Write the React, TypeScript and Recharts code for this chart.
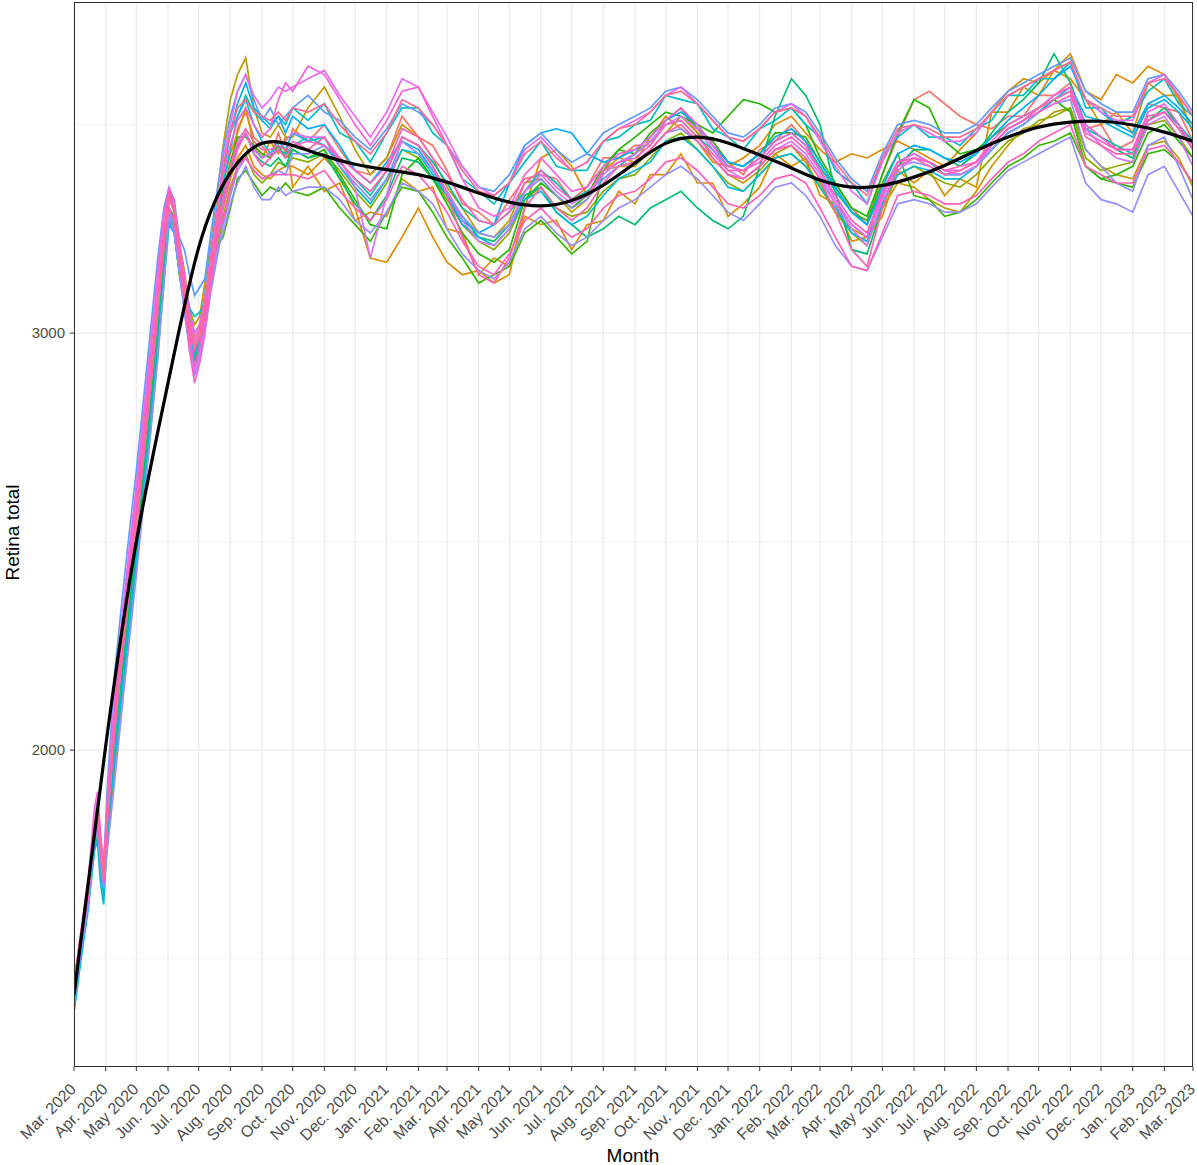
import React from 'react';
import { LineChart, Line, XAxis, YAxis, CartesianGrid } from 'recharts';

const FONT = "'Liberation Sans', Arial, Helvetica, sans-serif";

// day offsets since 1 Mar 2020 for the ensemble series
const earlyDays = [0, 7, 14, 20, 23, 26, 29, 33, 40, 47, 54, 61, 68, 75, 82, 88, 93, 98, 103, 108, 113, 118, 123, 128, 134, 140, 146, 153, 160, 168, 176, 184, 192, 200, 207];
const lateDays = [214, 229, 245, 260, 275, 290, 306, 321, 337, 351, 365, 380, 396, 411, 426, 441, 457, 472, 487, 502, 518, 533, 549, 564, 579, 594, 610, 625, 640, 655, 671, 686, 702, 716, 730, 745, 761, 776, 791, 806, 822, 837, 852, 867, 883, 898, 914, 929, 944, 959, 975, 990, 1005, 1020, 1036, 1051, 1067, 1081, 1095];
const days = [...earlyDays, ...lateDays];

const monthTicks = [0, 31, 61, 92, 122, 153, 184, 214, 245, 275, 306, 337, 365, 396, 426, 457, 487, 518, 549, 579, 610, 640, 671, 702, 730, 761, 791, 822, 852, 883, 914, 944, 975, 1005, 1036, 1067, 1095];
const monthLabels = [
  'Mar. 2020', 'Apr. 2020', 'May 2020', 'Jun. 2020', 'Jul. 2020', 'Aug. 2020', 'Sep. 2020', 'Oct. 2020', 'Nov. 2020', 'Dec. 2020',
  'Jan. 2021', 'Feb. 2021', 'Mar. 2021', 'Apr. 2021', 'May 2021', 'Jun. 2021', 'Jul. 2021', 'Aug. 2021', 'Sep. 2021', 'Oct. 2021', 'Nov. 2021', 'Dec. 2021',
  'Jan. 2022', 'Feb. 2022', 'Mar. 2022', 'Apr. 2022', 'May 2022', 'Jun. 2022', 'Jul. 2022', 'Aug. 2022', 'Sep. 2022', 'Oct. 2022', 'Nov. 2022', 'Dec. 2022',
  'Jan. 2023', 'Feb. 2023', 'Mar. 2023',
];
const yTicks = [2000, 3000];
const yMinor = [1500, 2500, 3500];

const smoothValues = [1413, 2010, 2500, 2880, 3205, 3385, 3455, 3450, 3425, 3405, 3392, 3380, 3362, 3336, 3314, 3305, 3318, 3355, 3408, 3455, 3470, 3456, 3427, 3396, 3367, 3350, 3354, 3374, 3402, 3438, 3470, 3494, 3506, 3508, 3499, 3482, 3460];

const s1 = [1430, 1550, 1670, 1820, 1860, 1770, 1700, 1840, 2070, 2250, 2400, 2560, 2700, 2890, 3080, 3230, 3320, 3300, 3200, 3110, 3030, 2990, 3010, 3060, 3170, 3230, 3340, 3380, 3490, 3530, 3470, 3450, 3420, 3480, 3430,
  3490, 3460, 3500, 3440, 3390, 3380, 3420, 3520, 3470, 3450, 3390, 3310, 3290, 3260, 3320, 3370, 3380, 3370, 3320, 3350, 3420, 3420, 3450, 3450, 3510, 3540, 3480, 3460, 3410, 3380, 3440, 3460, 3500, 3460, 3390, 3360, 3300, 3260, 3380, 3470, 3560, 3580, 3550, 3520, 3500, 3490, 3520, 3520, 3570, 3570, 3600, 3490, 3500, 3440, 3460, 3550, 3540, 3530, 3460];
const s2 = [1400, 1530, 1650, 1790, 1830, 1740, 1680, 1830, 2010, 2170, 2320, 2470, 2640, 2800, 2980, 3150, 3290, 3250, 3160, 3080, 2990, 2950, 2990, 3050, 3140, 3230, 3300, 3370, 3420, 3450, 3400, 3380, 3370, 3390, 3400,
  3400, 3380, 3420, 3380, 3300, 3180, 3170, 3230, 3300, 3230, 3170, 3140, 3150, 3120, 3140, 3300, 3420, 3440, 3400, 3330, 3390, 3420, 3410, 3470, 3520, 3490, 3460, 3410, 3400, 3420, 3450, 3500, 3520, 3480, 3440, 3410, 3430, 3420, 3440, 3460, 3440, 3420, 3400, 3440, 3480, 3530, 3580, 3610, 3600, 3630, 3670, 3580, 3560, 3620, 3600, 3640, 3620, 3560, 3480];
const s3 = [1440, 1560, 1670, 1810, 1850, 1780, 1710, 1880, 2120, 2300, 2470, 2630, 2800, 2970, 3140, 3290, 3340, 3300, 3220, 3150, 3060, 3020, 3040, 3120, 3230, 3330, 3450, 3560, 3620, 3660, 3540, 3480, 3470, 3500, 3470,
  3470, 3540, 3590, 3520, 3440, 3380, 3420, 3500, 3470, 3420, 3350, 3300, 3240, 3230, 3270, 3360, 3370, 3330, 3290, 3320, 3390, 3400, 3400, 3440, 3480, 3520, 3480, 3420, 3380, 3360, 3390, 3430, 3450, 3410, 3350, 3290, 3250, 3230, 3300, 3360, 3350, 3320, 3300, 3290, 3340, 3400, 3450, 3490, 3500, 3530, 3540, 3440, 3400, 3380, 3370, 3450, 3460, 3420, 3350];
const s4 = [1410, 1530, 1650, 1790, 1820, 1750, 1690, 1850, 2050, 2220, 2370, 2530, 2700, 2870, 3050, 3200, 3300, 3260, 3170, 3090, 2990, 2950, 2960, 3030, 3120, 3200, 3280, 3350, 3400, 3430, 3380, 3360, 3380, 3410, 3400,
  3420, 3410, 3430, 3390, 3340, 3300, 3360, 3440, 3420, 3370, 3320, 3260, 3220, 3200, 3240, 3320, 3350, 3300, 3280, 3290, 3340, 3370, 3380, 3420, 3460, 3480, 3440, 3400, 3360, 3340, 3380, 3420, 3430, 3400, 3360, 3290, 3240, 3210, 3310, 3380, 3400, 3380, 3360, 3350, 3380, 3420, 3460, 3480, 3510, 3520, 3540, 3420, 3390, 3400, 3410, 3500, 3510, 3470, 3420];
const s5 = [1420, 1540, 1660, 1830, 1870, 1770, 1690, 1840, 2060, 2240, 2390, 2550, 2710, 2890, 3060, 3220, 3300, 3280, 3190, 3110, 3040, 2930, 2970, 3060, 3170, 3260, 3340, 3410, 3470, 3470, 3450, 3430, 3420, 3450, 3420,
  3440, 3420, 3440, 3380, 3320, 3260, 3250, 3380, 3420, 3370, 3310, 3240, 3190, 3170, 3200, 3320, 3360, 3330, 3300, 3330, 3400, 3440, 3470, 3500, 3530, 3520, 3500, 3480, 3520, 3560, 3550, 3530, 3540, 3500, 3420, 3360, 3300, 3280, 3380, 3480, 3560, 3540, 3460, 3430, 3440, 3470, 3500, 3520, 3540, 3560, 3530, 3400, 3370, 3380, 3400, 3480, 3500, 3460, 3420];
const s6 = [1400, 1520, 1640, 1780, 1810, 1730, 1660, 1820, 2010, 2180, 2330, 2480, 2650, 2820, 3000, 3160, 3280, 3260, 3160, 3070, 2980, 2920, 2950, 3020, 3120, 3220, 3310, 3390, 3450, 3480, 3430, 3410, 3400, 3420, 3400,
  3440, 3420, 3430, 3370, 3310, 3270, 3330, 3420, 3410, 3370, 3330, 3280, 3230, 3220, 3260, 3330, 3350, 3290, 3260, 3230, 3250, 3280, 3260, 3300, 3320, 3340, 3300, 3270, 3250, 3280, 3400, 3520, 3610, 3570, 3500, 3340, 3200, 3190, 3300, 3400, 3440, 3440, 3420, 3400, 3430, 3480, 3530, 3560, 3600, 3670, 3600, 3500, 3470, 3440, 3420, 3510, 3540, 3500, 3440];
const s7 = [1390, 1510, 1630, 1760, 1790, 1710, 1650, 1810, 2000, 2160, 2310, 2460, 2630, 2800, 2980, 3140, 3270, 3240, 3150, 3060, 2990, 2940, 2980, 3050, 3150, 3240, 3320, 3400, 3450, 3480, 3440, 3420, 3430, 3440, 3430,
  3450, 3470, 3450, 3410, 3370, 3330, 3390, 3470, 3450, 3410, 3360, 3300, 3270, 3260, 3290, 3340, 3390, 3360, 3320, 3340, 3370, 3400, 3430, 3460, 3500, 3510, 3470, 3440, 3400, 3390, 3420, 3460, 3480, 3450, 3400, 3340, 3290, 3260, 3340, 3410, 3430, 3410, 3380, 3380, 3400, 3440, 3480, 3500, 3530, 3560, 3580, 3490, 3470, 3450, 3430, 3510, 3530, 3500, 3460];
const s8 = [1370, 1500, 1620, 1760, 1780, 1680, 1630, 1810, 1980, 2140, 2290, 2440, 2600, 2770, 2950, 3120, 3260, 3240, 3150, 3070, 3000, 2950, 2990, 3060, 3170, 3270, 3360, 3440, 3520, 3560, 3500, 3460, 3430, 3460, 3440,
  3480, 3460, 3470, 3400, 3350, 3310, 3370, 3440, 3430, 3380, 3330, 3260, 3230, 3210, 3250, 3320, 3340, 3290, 3260, 3280, 3330, 3370, 3390, 3410, 3460, 3470, 3440, 3400, 3350, 3340, 3380, 3420, 3430, 3400, 3350, 3300, 3240, 3220, 3310, 3380, 3400, 3390, 3370, 3370, 3400, 3440, 3480, 3500, 3530, 3560, 3590, 3520, 3510, 3490, 3470, 3540, 3560, 3530, 3490];
const s9 = [1410, 1540, 1660, 1800, 1840, 1760, 1700, 1860, 2070, 2240, 2400, 2550, 2720, 2890, 3070, 3230, 3330, 3310, 3210, 3130, 3050, 3000, 3020, 3090, 3200, 3300, 3400, 3480, 3550, 3600, 3540, 3520, 3500, 3520, 3480,
  3520, 3490, 3500, 3450, 3390, 3360, 3410, 3460, 3440, 3390, 3330, 3270, 3240, 3260, 3360, 3450, 3480, 3490, 3480, 3430, 3410, 3420, 3440, 3470, 3510, 3530, 3500, 3450, 3410, 3400, 3430, 3470, 3490, 3460, 3410, 3350, 3290, 3260, 3350, 3430, 3450, 3440, 3420, 3410, 3430, 3470, 3510, 3540, 3570, 3610, 3640, 3560, 3530, 3500, 3480, 3550, 3570, 3540, 3500];
const s10 = [1400, 1520, 1640, 1790, 1830, 1750, 1680, 1840, 2050, 2220, 2380, 2530, 2700, 2870, 3050, 3210, 3290, 3260, 3160, 3070, 2970, 2900, 2930, 3000, 3100, 3180, 3260, 3330, 3390, 3420, 3390, 3370, 3380, 3390, 3380,
  3430, 3430, 3450, 3400, 3360, 3320, 3370, 3460, 3430, 3390, 3340, 3280, 3240, 3230, 3260, 3340, 3370, 3330, 3300, 3320, 3370, 3400, 3410, 3440, 3480, 3490, 3460, 3420, 3380, 3370, 3400, 3440, 3450, 3420, 3370, 3310, 3260, 3230, 3330, 3400, 3410, 3400, 3380, 3380, 3400, 3440, 3480, 3500, 3530, 3550, 3560, 3440, 3400, 3360, 3340, 3450, 3470, 3400, 3320];
const s11 = [1420, 1550, 1670, 1810, 1850, 1770, 1700, 1850, 2060, 2240, 2400, 2550, 2720, 2890, 3070, 3230, 3320, 3290, 3190, 3100, 3000, 2910, 2940, 3020, 3130, 3230, 3320, 3400, 3450, 3480, 3440, 3420, 3430, 3440, 3460,
  3480, 3470, 3470, 3420, 3350, 3180, 3330, 3470, 3450, 3400, 3340, 3270, 3220, 3210, 3250, 3340, 3380, 3340, 3310, 3330, 3380, 3410, 3430, 3460, 3500, 3520, 3490, 3440, 3390, 3370, 3400, 3440, 3460, 3430, 3380, 3310, 3250, 3210, 3320, 3390, 3420, 3410, 3390, 3380, 3400, 3450, 3490, 3510, 3540, 3570, 3590, 3490, 3450, 3420, 3410, 3500, 3520, 3470, 3400];
const s12 = [1440, 1570, 1690, 1860, 1900, 1800, 1720, 1870, 2100, 2280, 2450, 2610, 2780, 2950, 3130, 3280, 3350, 3310, 3220, 3140, 3050, 3000, 3020, 3080, 3190, 3290, 3380, 3450, 3510, 3540, 3500, 3470, 3490, 3560, 3600,
  3580, 3640, 3620, 3560, 3500, 3450, 3510, 3580, 3590, 3520, 3450, 3370, 3300, 3280, 3300, 3380, 3420, 3380, 3340, 3350, 3400, 3430, 3440, 3470, 3510, 3540, 3500, 3450, 3400, 3390, 3420, 3460, 3480, 3450, 3390, 3320, 3260, 3230, 3330, 3410, 3430, 3410, 3390, 3390, 3410, 3460, 3500, 3520, 3540, 3570, 3590, 3500, 3470, 3440, 3440, 3530, 3550, 3500, 3450];
const s13 = [1430, 1550, 1670, 1810, 1850, 1760, 1690, 1860, 2070, 2240, 2390, 2540, 2710, 2880, 3060, 3220, 3320, 3300, 3190, 3100, 3010, 2960, 2990, 3060, 3160, 3250, 3330, 3400, 3460, 3490, 3460, 3440, 3440, 3450, 3440,
  3460, 3440, 3470, 3410, 3370, 3340, 3390, 3470, 3450, 3400, 3330, 3230, 3140, 3120, 3180, 3300, 3350, 3300, 3270, 3300, 3360, 3400, 3410, 3440, 3480, 3500, 3460, 3420, 3380, 3370, 3400, 3440, 3450, 3420, 3370, 3290, 3200, 3160, 3300, 3400, 3420, 3400, 3380, 3390, 3410, 3450, 3490, 3510, 3540, 3560, 3580, 3470, 3450, 3430, 3430, 3510, 3530, 3490, 3440];
const s14 = [1450, 1560, 1680, 1820, 1860, 1770, 1710, 1870, 2090, 2270, 2430, 2580, 2750, 2920, 3090, 3250, 3340, 3320, 3180, 3080, 2960, 2880, 2930, 3000, 3120, 3220, 3300, 3380, 3440, 3480, 3430, 3400, 3420, 3440, 3420,
  3450, 3460, 3450, 3420, 3390, 3360, 3400, 3490, 3470, 3420, 3380, 3320, 3270, 3260, 3290, 3360, 3390, 3350, 3320, 3330, 3390, 3410, 3420, 3450, 3500, 3510, 3470, 3430, 3390, 3390, 3410, 3450, 3470, 3440, 3390, 3330, 3270, 3240, 3340, 3410, 3420, 3410, 3390, 3400, 3410, 3450, 3490, 3510, 3530, 3550, 3570, 3480, 3460, 3440, 3440, 3520, 3530, 3490, 3440];
const s15 = [1410, 1560, 1650, 1830, 1850, 1750, 1700, 1780, 1960, 2120, 2300, 2440, 2610, 2790, 2960, 3130, 3300, 3260, 3190, 3090, 3020, 2940, 3000, 3050, 3180, 3240, 3360, 3430, 3480, 3540, 3450, 3420, 3460, 3430, 3470,
  3350, 3400, 3340, 3360, 3270, 3290, 3280, 3370, 3340, 3350, 3250, 3240, 3140, 3180, 3160, 3280, 3260, 3270, 3200, 3260, 3270, 3340, 3310, 3380, 3380, 3430, 3360, 3360, 3280, 3310, 3350, 3430, 3400, 3420, 3330, 3310, 3220, 3230, 3280, 3390, 3360, 3390, 3330, 3370, 3350, 3530, 3530, 3590, 3570, 3630, 3610, 3560, 3500, 3530, 3480, 3600, 3570, 3570, 3480];
const s16 = [1400, 1510, 1640, 1770, 1820, 1740, 1670, 1800, 2000, 2180, 2340, 2500, 2660, 2840, 3010, 3180, 3270, 3250, 3140, 3070, 2970, 2930, 2960, 3030, 3110, 3210, 3230, 3300, 3370, 3390, 3360, 3330, 3350, 3340, 3360,
  3340, 3330, 3350, 3300, 3260, 3220, 3290, 3350, 3340, 3290, 3230, 3180, 3120, 3140, 3160, 3240, 3270, 3230, 3190, 3220, 3390, 3440, 3430, 3480, 3510, 3540, 3490, 3460, 3410, 3400, 3430, 3480, 3480, 3470, 3410, 3350, 3290, 3270, 3360, 3430, 3330, 3320, 3280, 3290, 3320, 3360, 3400, 3420, 3450, 3460, 3480, 3400, 3370, 3360, 3350, 3430, 3440, 3410, 3360];
const s17 = [1430, 1530, 1670, 1790, 1850, 1740, 1660, 1820, 2040, 2220, 2370, 2530, 2690, 2870, 3050, 3210, 3300, 3270, 3170, 3110, 3060, 3040, 3050, 3070, 3150, 3260, 3380, 3480, 3520, 3570, 3530, 3510, 3490, 3520, 3500,
  3540, 3510, 3550, 3480, 3460, 3410, 3480, 3540, 3540, 3480, 3450, 3370, 3340, 3310, 3360, 3410, 3460, 3400, 3390, 3390, 3460, 3470, 3500, 3510, 3570, 3560, 3550, 3490, 3470, 3440, 3490, 3510, 3540, 3500, 3470, 3390, 3360, 3310, 3420, 3470, 3500, 3470, 3470, 3450, 3490, 3510, 3570, 3570, 3610, 3610, 3650, 3540, 3540, 3500, 3520, 3580, 3610, 3550, 3520];
const s18 = [1420, 1550, 1680, 1820, 1870, 1780, 1720, 1930, 2190, 2360, 2520, 2670, 2840, 3010, 3180, 3300, 3350, 3320, 3230, 3200, 3140, 3090, 3110, 3130, 3240, 3340, 3440, 3520, 3580, 3620, 3560, 3510, 3540, 3500, 3520,
  3540, 3570, 3530, 3510, 3470, 3440, 3490, 3550, 3530, 3500, 3450, 3400, 3350, 3340, 3380, 3450, 3480, 3440, 3410, 3430, 3480, 3500, 3520, 3540, 3580, 3590, 3560, 3520, 3480, 3470, 3500, 3540, 3550, 3530, 3480, 3420, 3370, 3340, 3430, 3500, 3510, 3500, 3480, 3480, 3500, 3540, 3580, 3600, 3620, 3640, 3660, 3580, 3550, 3530, 3530, 3610, 3620, 3580, 3530];
const s19 = [1390, 1520, 1630, 1780, 1810, 1730, 1670, 1770, 1930, 2100, 2260, 2420, 2590, 2760, 2940, 3120, 3280, 3240, 3150, 3050, 2960, 2910, 2950, 3010, 3120, 3200, 3240, 3310, 3360, 3400, 3350, 3320, 3320, 3350, 3330,
  3340, 3350, 3350, 3320, 3270, 3240, 3290, 3360, 3340, 3310, 3250, 3190, 3150, 3130, 3170, 3250, 3280, 3240, 3210, 3230, 3270, 3300, 3320, 3350, 3380, 3400, 3370, 3330, 3290, 3270, 3310, 3350, 3360, 3330, 3280, 3210, 3160, 3150, 3230, 3310, 3320, 3310, 3290, 3290, 3310, 3350, 3390, 3410, 3430, 3450, 3470, 3360, 3320, 3310, 3290, 3380, 3400, 3340, 3280];
const s20 = [1440, 1560, 1680, 1840, 1880, 1790, 1710, 1900, 2140, 2320, 2480, 2630, 2800, 2970, 3150, 3290, 3330, 3300, 3210, 3120, 3030, 2980, 3010, 3080, 3180, 3280, 3420, 3500, 3580, 3620, 3570, 3540, 3560, 3590, 3580,
  3590, 3610, 3630, 3570, 3520, 3470, 3530, 3610, 3590, 3530, 3470, 3400, 3350, 3330, 3360, 3440, 3470, 3430, 3390, 3410, 3460, 3490, 3510, 3530, 3570, 3590, 3550, 3510, 3470, 3460, 3490, 3530, 3550, 3520, 3460, 3400, 3340, 3310, 3410, 3480, 3500, 3480, 3460, 3460, 3480, 3530, 3570, 3590, 3610, 3630, 3650, 3560, 3530, 3510, 3510, 3600, 3620, 3570, 3520];
const s21 = [1420, 1540, 1650, 1800, 1830, 1750, 1680, 1840, 2050, 2220, 2380, 2530, 2700, 2870, 3050, 3210, 3300, 3270, 3170, 3080, 2990, 2920, 2970, 3040, 3140, 3240, 3270, 3340, 3400, 3420, 3390, 3370, 3380, 3380, 3380,
  3380, 3370, 3390, 3340, 3300, 3270, 3320, 3400, 3380, 3340, 3290, 3220, 3160, 3140, 3190, 3270, 3300, 3260, 3230, 3250, 3300, 3330, 3340, 3370, 3410, 3420, 3390, 3350, 3310, 3300, 3330, 3370, 3380, 3360, 3300, 3230, 3160, 3150, 3240, 3330, 3340, 3330, 3310, 3310, 3330, 3370, 3410, 3430, 3460, 3480, 3500, 3400, 3380, 3360, 3360, 3440, 3450, 3410, 3360];
const s22 = [1440, 1560, 1670, 1820, 1860, 1770, 1700, 1860, 2070, 2240, 2400, 2550, 2720, 2890, 3070, 3230, 3330, 3290, 3200, 3110, 3020, 2970, 3000, 3070, 3170, 3260, 3400, 3480, 3540, 3560, 3530, 3520, 3510, 3530, 3510,
  3540, 3530, 3550, 3500, 3460, 3430, 3480, 3560, 3540, 3500, 3450, 3390, 3340, 3330, 3360, 3430, 3460, 3420, 3390, 3410, 3460, 3490, 3500, 3530, 3570, 3580, 3550, 3510, 3470, 3460, 3490, 3530, 3540, 3520, 3470, 3410, 3360, 3330, 3420, 3490, 3500, 3490, 3470, 3470, 3490, 3530, 3570, 3590, 3610, 3630, 3650, 3560, 3540, 3520, 3520, 3600, 3610, 3570, 3520];

const seriesList = [
  { key: 's1', color: '#F8766D', values: s1 },
  { key: 's2', color: '#E18A00', values: s2 },
  { key: 's15', color: '#D89000', values: s15 },
  { key: 's3', color: '#BE9C00', values: s3 },
  { key: 's4', color: '#8CAB00', values: s4 },
  { key: 's16', color: '#39B600', values: s16 },
  { key: 's5', color: '#24B700', values: s5 },
  { key: 's6', color: '#00BE70', values: s6 },
  { key: 's7', color: '#00C1AB', values: s7 },
  { key: 's17', color: '#00BFC4', values: s17 },
  { key: 's8', color: '#00BBDA', values: s8 },
  { key: 's9', color: '#00ACFC', values: s9 },
  { key: 's18', color: '#619CFF', values: s18 },
  { key: 's10', color: '#8B93FF', values: s10 },
  { key: 's19', color: '#9590FF', values: s19 },
  { key: 's11', color: '#D575FE', values: s11 },
  { key: 's20', color: '#E76BF3', values: s20 },
  { key: 's12', color: '#F962DD', values: s12 },
  { key: 's21', color: '#FF62BC', values: s21 },
  { key: 's13', color: '#FF65AC', values: s13 },
  { key: 's14', color: '#FF61C3', values: s14 },
  { key: 's22', color: '#FF6C91', values: s22 },
];

const rows = days.map((d, i) => {
  const r: Record<string, number> = { day: d };
  seriesList.forEach((s) => { r[s.key] = s.values[i]; });
  return r;
});
const smoothRows = monthTicks.map((d, i) => ({ day: d, v: smoothValues[i] }));

const XTick = (props: any) => {
  const { x, y, payload } = props;
  const idx = monthTicks.indexOf(payload.value);
  return (
    <g transform={`translate(${x - 5},${y + 9})`}>
      <text transform="rotate(-45)" textAnchor="end" dy="0.72em" fontSize={16} fill="#4D4D4D" fontFamily={FONT}>
        {monthLabels[idx]}
      </text>
    </g>
  );
};

export default function App() {
  return (
    <div style={{ position: 'absolute', left: 0, top: 0, width: 1197, height: 1165, background: '#fff' }}>
      <LineChart width={1197} height={1165} data={rows} margin={{ top: 2, right: 4, left: 0, bottom: 0 }}>
        <CartesianGrid horizontalValues={yMinor} vertical={false} stroke="#EBEBEB" strokeWidth={0.6} />
        <CartesianGrid horizontalValues={yTicks} verticalValues={monthTicks} stroke="#EBEBEB" strokeWidth={1.2} />
        <XAxis
          dataKey="day"
          type="number"
          domain={[0, 1095]}
          ticks={monthTicks}
          interval={0}
          allowDataOverflow
          height={98}
          tickSize={4}
          axisLine={false}
          tickLine={{ stroke: '#333333' }}
          tick={<XTick />}
        />
        <YAxis
          type="number"
          domain={[1240, 3794]}
          ticks={yTicks}
          allowDataOverflow
          width={74}
          tickSize={4}
          tickMargin={5}
          axisLine={false}
          tickLine={{ stroke: '#333333' }}
          tick={{ fill: '#4D4D4D', fontSize: 15, fontFamily: FONT }}
        />
        {seriesList.map((s) => (
          <Line key={s.key} dataKey={s.key} type="linear" stroke={s.color} strokeWidth={1.7} dot={false} activeDot={false} isAnimationActive={false} />
        ))}
        <Line data={smoothRows} dataKey="v" type="natural" stroke="#000000" strokeWidth={3.2} dot={false} activeDot={false} isAnimationActive={false} />
      </LineChart>
      <div style={{ position: 'absolute', left: 74, top: 2, width: 1119, height: 1065, border: '1px solid #333333', boxSizing: 'border-box', pointerEvents: 'none' }} />
      <div style={{ position: 'absolute', left: 533, top: 1146, width: 200, textAlign: 'center', fontFamily: FONT, fontSize: 19, lineHeight: '19px', color: '#000' }}>Month</div>
      <div style={{ position: 'absolute', left: -88, top: 523, width: 200, height: 19, textAlign: 'center', fontFamily: FONT, fontSize: 19, lineHeight: '19px', color: '#000', transform: 'rotate(-90deg)' }}>Retina total</div>
    </div>
  );
}
